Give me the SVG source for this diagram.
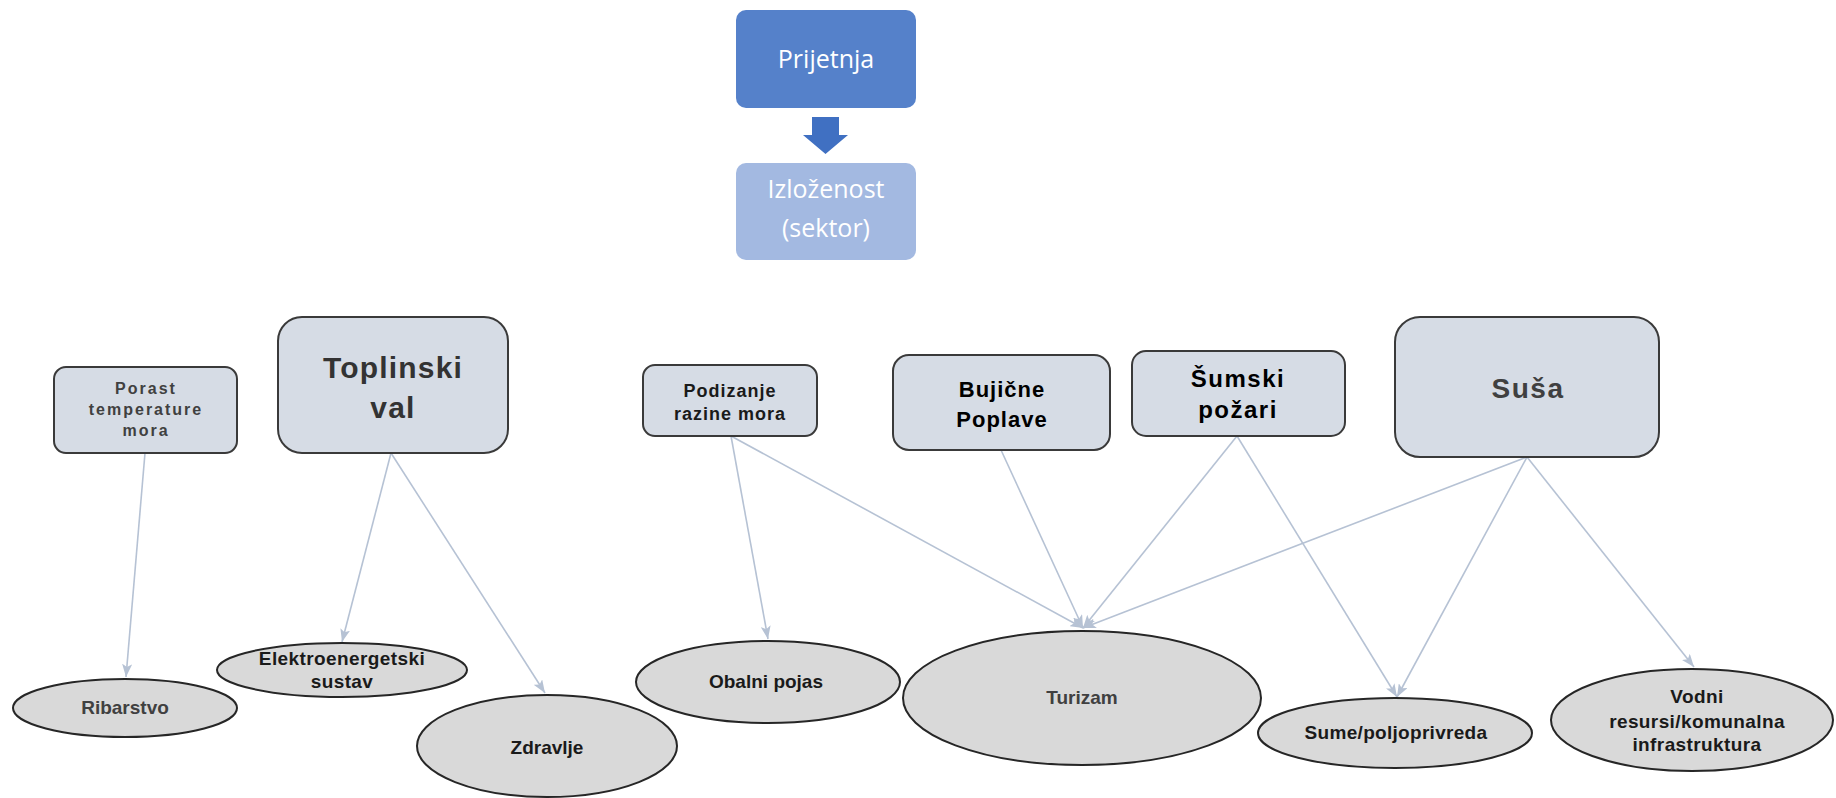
<svg xmlns="http://www.w3.org/2000/svg" width="1836" height="798" viewBox="0 0 1836 798">
<style>
.top{font-family:"Open Sans","Noto Sans",sans-serif;font-size:25px;fill:#ffffff;text-anchor:middle}
.box{fill:#D6DCE5;stroke:#3A3A3A;stroke-width:2}
.ell{fill:#D9D9D9;stroke:#262626;stroke-width:2}
.bt{font-family:"Liberation Sans",Arial,sans-serif;font-weight:bold;text-anchor:middle;fill:#1a1a1a}
.et{font-family:"Liberation Sans",Arial,sans-serif;font-weight:bold;font-size:19px;text-anchor:middle;fill:#1a1a1a}
.gray{fill:#404040}
.con line{stroke:#B6C2D4;stroke-width:1.6;fill:none;marker-end:url(#ah)}
</style>
<defs>
<marker id="ah" viewBox="0 0 13 10" refX="13" refY="5" markerWidth="13" markerHeight="10" markerUnits="userSpaceOnUse" orient="auto">
<path d="M0,0 L13,5 L0,10 L3,5 Z" fill="#B6C2D4"/>
</marker>
</defs>
<rect width="1836" height="798" fill="#ffffff"/>

<g id="prijetnja">
<rect x="736" y="10" width="180" height="98" rx="10" fill="#5581CA"/>
<text class="top" x="826" y="68">Prijetnja</text>
</g>
<g id="arrow-down">
<path d="M812,117 H839 V135 H848 L825.5,154 L803,135 H812 Z" fill="#4070C2"/>
</g>
<g id="izlozenost">
<rect x="736" y="163" width="180" height="97" rx="10" fill="#A3B9E1"/>
<text class="top" x="826" y="198">Izloženost</text>
<text class="top" x="826" y="237">(sektor)</text>
</g>

<g id="connectors" class="con">
<line x1="145" y1="453" x2="126" y2="677"/>
<line x1="391" y1="453" x2="342" y2="642"/>
<line x1="391" y1="453" x2="545" y2="693"/>
<line x1="731" y1="436" x2="768" y2="639"/>
<line x1="731" y1="436" x2="1083" y2="628"/>
<line x1="1001" y1="450" x2="1083" y2="628"/>
<line x1="1237" y1="436" x2="1083" y2="628"/>
<line x1="1237" y1="436" x2="1397" y2="697"/>
<line x1="1527" y1="457" x2="1083" y2="628"/>
<line x1="1527" y1="457" x2="1397" y2="697"/>
<line x1="1527" y1="457" x2="1694" y2="667"/>
</g>

<g id="porast">
<rect class="box" x="54" y="367" width="183" height="86" rx="12"/>
<text class="bt gray" font-size="16" letter-spacing="2" x="146" y="394">Porast</text>
<text class="bt gray" font-size="16" letter-spacing="2" x="146" y="415">temperature</text>
<text class="bt gray" font-size="16" letter-spacing="2" x="146" y="436">mora</text>
</g>
<g id="toplinski">
<rect class="box" x="278" y="317" width="230" height="136" rx="24"/>
<text class="bt" style="fill:#333333" font-size="30" letter-spacing="1.2" x="393" y="378">Toplinski</text>
<text class="bt" style="fill:#333333" font-size="30" letter-spacing="1.2" x="393" y="418">val</text>
</g>
<g id="podizanje">
<rect class="box" x="643" y="365" width="174" height="71" rx="12"/>
<text class="bt" font-size="18" letter-spacing="1" x="730" y="397">Podizanje</text>
<text class="bt" font-size="18" letter-spacing="1" x="730" y="420">razine mora</text>
</g>
<g id="bujicne">
<rect class="box" x="893" y="355" width="217" height="95" rx="16"/>
<text class="bt" style="fill:#000" font-size="22" letter-spacing="1" x="1002" y="397">Bujične</text>
<text class="bt" style="fill:#000" font-size="22" letter-spacing="1" x="1002" y="427">Poplave</text>
</g>
<g id="sumski">
<rect class="box" x="1132" y="351" width="213" height="85" rx="14"/>
<text class="bt" style="fill:#000" font-size="24" letter-spacing="1.5" x="1238" y="387">Šumski</text>
<text class="bt" style="fill:#000" font-size="24" letter-spacing="1.5" x="1238" y="418">požari</text>
</g>
<g id="susa">
<rect class="box" x="1395" y="317" width="264" height="140" rx="25"/>
<text class="bt gray" font-size="28" letter-spacing="1.5" x="1528" y="398">Suša</text>
</g>

<g id="ribarstvo">
<ellipse class="ell" cx="125" cy="708" rx="112" ry="29"/>
<text class="et gray" x="125" y="714">Ribarstvo</text>
</g>
<g id="elektro">
<ellipse class="ell" cx="342" cy="670" rx="125" ry="27"/>
<text class="et" letter-spacing="0.4" x="342" y="665">Elektroenergetski</text>
<text class="et" letter-spacing="0.4" x="342" y="688">sustav</text>
</g>
<g id="zdravlje">
<ellipse class="ell" cx="547" cy="746" rx="130" ry="51"/>
<text class="et" x="547" y="754">Zdravlje</text>
</g>
<g id="obalni">
<ellipse class="ell" cx="768" cy="682" rx="132" ry="41"/>
<text class="et" x="766" y="688">Obalni pojas</text>
</g>
<g id="turizam">
<ellipse class="ell" cx="1082" cy="698" rx="179" ry="67"/>
<text class="et gray" x="1082" y="704">Turizam</text>
</g>
<g id="sume">
<ellipse class="ell" cx="1395" cy="733" rx="137" ry="35"/>
<text class="et" letter-spacing="0.3" x="1396" y="739">Sume/poljoprivreda</text>
</g>
<g id="vodni">
<ellipse class="ell" cx="1692" cy="720" rx="141" ry="51"/>
<text class="et" letter-spacing="0.4" x="1697" y="703">Vodni</text>
<text class="et" letter-spacing="0.4" x="1697" y="728">resursi/komunalna</text>
<text class="et" letter-spacing="0.4" x="1697" y="751">infrastruktura</text>
</g>
</svg>
